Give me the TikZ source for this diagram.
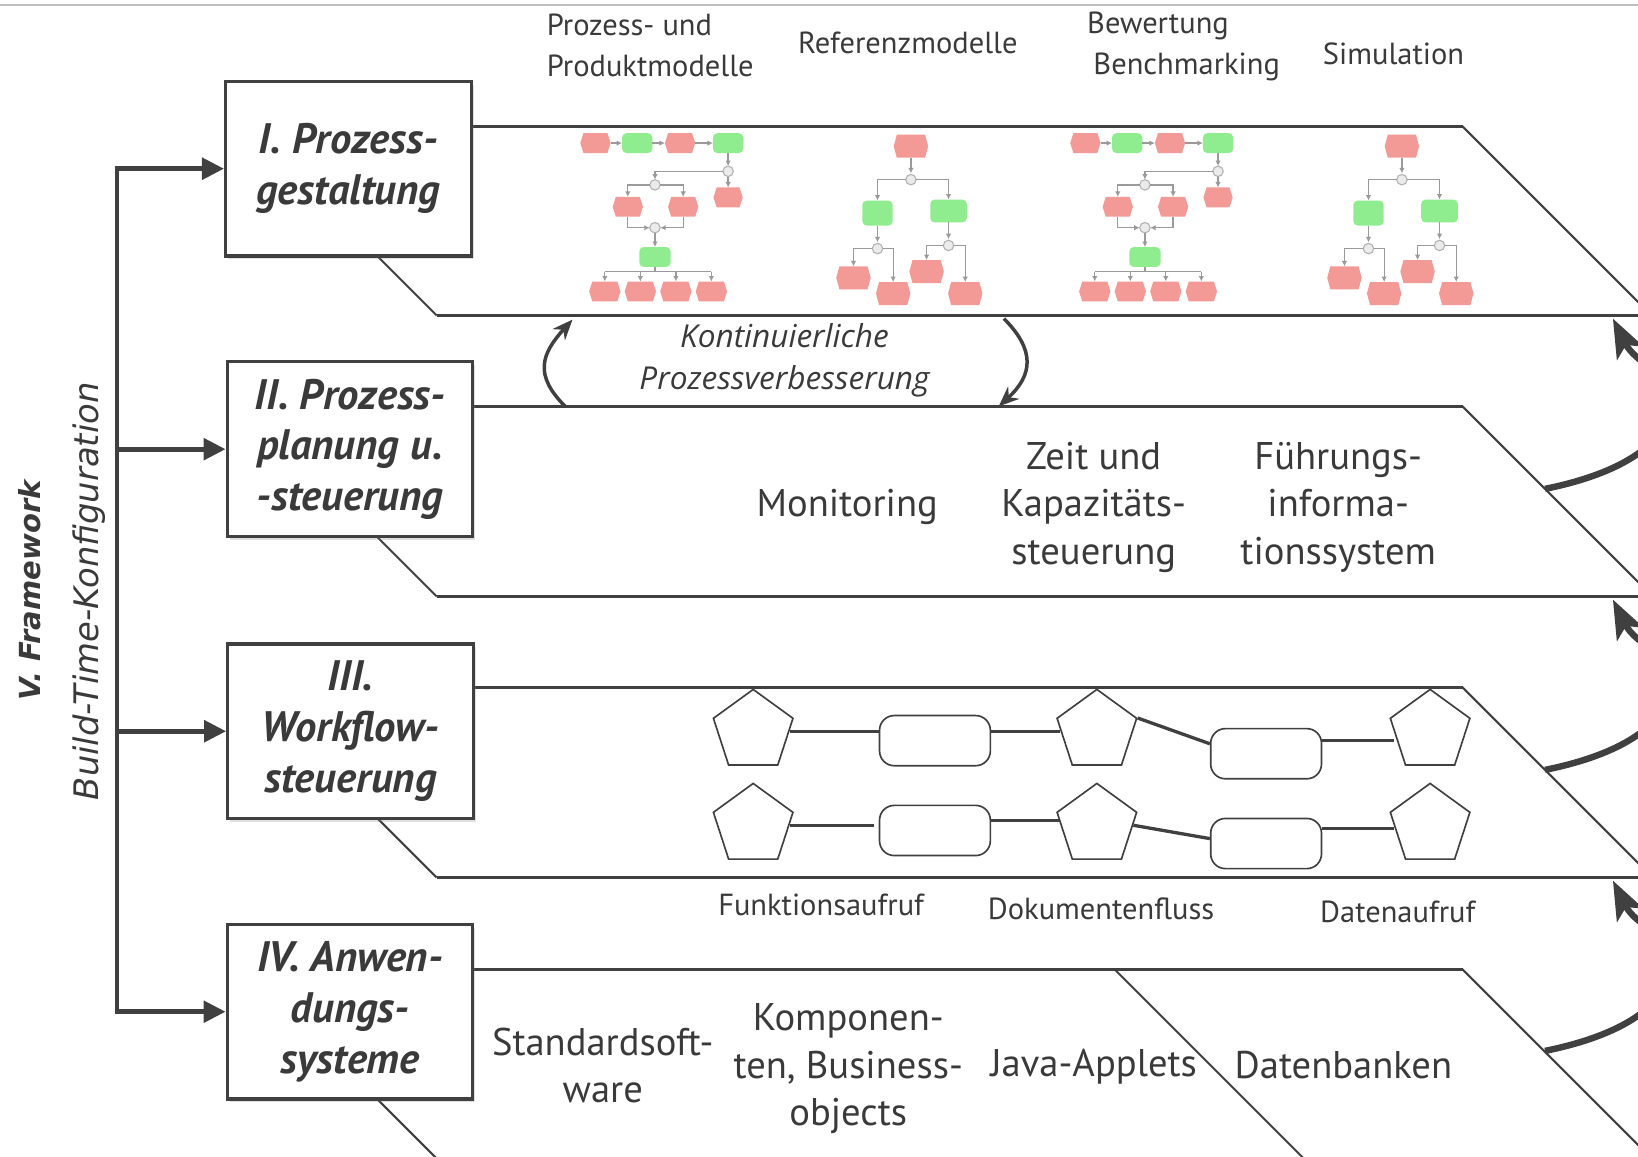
\documentclass[tikz,border=0pt]{standalone}
\usepackage{fontspec}
\setmainfont{PT Sans}
\newfontfamily\vfont{DejaVu Sans}[ItalicFont={DejaVu Sans Oblique},BoldFont={DejaVu Sans Bold},BoldItalicFont={DejaVu Sans Bold Oblique}]
\newfontfamily\kfont{Open Sans}
\usetikzlibrary{arrows.meta,calc,shapes.geometric,shadows}
\definecolor{dk}{HTML}{404040}
\definecolor{txt}{HTML}{3A3A3A}
\definecolor{evred}{HTML}{F39A97}
\definecolor{fngreen}{HTML}{8FEC8F}
\definecolor{epcline}{HTML}{9A9A9A}
\tikzset{
  pics/ev/.style args={#1/#2}{code={\fill[evred] (-#1/2,0) -- (-#1/2+3,-#2/2) -- (#1/2-3,-#2/2) -- (#1/2,0) -- (#1/2-3,#2/2) -- (-#1/2+3,#2/2) -- cycle;}},
  pics/fn/.style args={#1/#2}{code={\fill[fngreen,rounded corners=1.2pt] (-#1/2,-#2/2) rectangle (#1/2,#2/2);}},
  pics/cn/.style={code={\filldraw[fill=black!8,draw=black!30,line width=0.3pt] (0,0) circle[radius=5];}},
  epca/.style={draw=epcline,line width=0.35pt,-{Latex[length=1.5pt,width=1.5pt]}},
  epcl/.style={draw=epcline,line width=0.35pt},
  hline/.style={draw=dk,line width=0.8pt},
  dline/.style={draw=dk,line width=0.55pt},
  box/.style={draw=dk,line width=0.85pt,fill=white,minimum width=2.35cm,minimum height=1.67cm,inner sep=0pt,align=center,text=txt,font=\fontsize{11.6}{13.8}\selectfont\bfseries\itshape,drop shadow={shadow xshift=0.7pt,shadow yshift=-0.9pt,opacity=0.25}},
  lbl/.style={text=txt,align=center,inner sep=0pt,font=\fontsize{8.3}{11.1}\selectfont},
  biglbl/.style={text=txt,align=center,inner sep=0pt,font=\fontsize{10.5}{12.9}\selectfont},
  spine/.style={draw=dk,line width=1.3pt},
  spinearrow/.style={spine,-{Triangle[length=6pt,width=5.8pt]}},
  bigarrow/.style={draw=dk,line width=1.75pt,-{Stealth[length=10.5pt,width=8pt,inset=2.5pt]}},
  kparrow/.style={draw=dk,line width=0.95pt,-{Stealth[length=5.5pt,width=4.5pt]}},
  pent/.style={draw=dk,line width=0.45pt,fill=white,regular polygon,regular polygon sides=5,minimum size=0.8cm,inner sep=0pt},
  rrect/.style={draw=dk,line width=0.45pt,fill=white,rounded corners=4pt,minimum width=1.06cm,minimum height=0.48cm,inner sep=0pt},
  wfconn/.style={draw=dk,line width=0.9pt},
}
\newcommand\epcA{%
  \pic at (570,137) {ev=29/19};
  \pic at (610,137) {fn=29/19};
  \pic at (651,137) {ev=29/19};
  \pic at (697,137) {fn=29/19};
  \draw[epca] (584.5,137) -- (595.5,137);
  \draw[epca] (624.5,137) -- (636.5,137);
  \draw[epca] (665.5,137) -- (682.5,137);
  \draw[epca] (697,146.5) -- (697,159);
  \pic at (697,164) {cn};
  \draw[epca] (692,164) -| (627,172);
  \draw[epca] (697,169) -- (697,179.5);
  \pic at (697,189) {ev=28/19};
  \pic at (627,177) {cn};
  \draw[epca] (622,177) -| (601,188.5);
  \draw[epca] (632,177) -| (654,188.5);
  \pic at (601,198) {ev=29/19};
  \pic at (654,198) {ev=29/19};
  \draw[epca] (601,207.5) |- (622,218);
  \draw[epca] (654,207.5) |- (632,218);
  \pic at (627,218) {cn};
  \draw[epca] (627,223) -- (627,236.5);
  \pic at (627,246) {fn=30/19};
  \draw[epcl] (627,255.5) -- (627,260);
  \draw[epcl] (579,260) -- (681,260);
  \foreach \xx in {579,613,647,681} {\draw[epca] (\xx,260) -- (\xx,269.5); \pic at (\xx,279) {ev=30/19};}
}
\newcommand\epcB{%
  \pic at (872,140) {ev=33/22};
  \draw[epca] (872,151) -- (872,166);
  \pic at (872,172) {cn};
  \draw[epca] (867,172) -| (840,192);
  \draw[epca] (877,172) -| (908,191);
  \pic at (840,204) {fn=29/24};
  \pic at (908,202) {fn=35/22};
  \draw[epca] (840,216) -- (840,232);
  \pic at (840,238) {cn};
  \draw[epca] (835,238) -| (817,255);
  \draw[epca] (845,238) -| (855,270);
  \pic at (817,266) {ev=33/22};
  \pic at (855,281) {ev=33/22};
  \draw[epca] (908,213) -- (908,229);
  \pic at (908,235) {cn};
  \draw[epca] (903,235) -| (887,249);
  \draw[epca] (913,235) -| (924,270);
  \pic at (887,260) {ev=33/22};
  \pic at (924,281) {ev=33/22};
}
\begin{document}
\begin{tikzpicture}[x=0.01cm,y=-0.01cm]
\useasboundingbox (0,0) rectangle (1568,1107);
\clip (0,0) rectangle (1568,1107);
% top rule
\draw[draw=black!25,line width=0.5pt] (0,5) -- (1568,5);
% layers
\foreach \yt/\yb in {121/302,389/571,658/840,928/1109}{
  \draw[hline] (230,\yt) -- (1400,\yt);
  \draw[dline] (1400,\yt) -- ($(1400,\yt)+(\yb-\yt,\yb-\yt)$);
  \draw[hline] (418,\yb) -- (1700,\yb);
  \draw[dline] ($(418,\yb)-(\yb-\yt,\yb-\yt)$) -- (418,\yb);
}
\draw[dline] (1067,928) -- (1248,1109);
% EPC thumbnails
\epcA
\begin{scope}[shift={(469,0)}]\epcA\end{scope}
\epcB
\begin{scope}[shift={(470,0)}]\epcB\end{scope}
% boxes
\node[box] (b1) at (333.5,161.5) {I. Prozess-\\gestaltung};
\node[box] (b2) at (335,430) {II. Prozess-\\planung u.\\-steuerung};
\node[box] (b3) at (335.5,700) {III.\\Workflow-\\steuerung};
\node[box] (b4) at (335,968.5) {IV. Anwen-\\dungs-\\systeme};
% spine
\coordinate (sp1) at (112,161.5);
\coordinate (sp4) at (112,968.5);
\draw[spinearrow] (sp4) |- (b1.west);
\draw[spinearrow] (sp1) |- (b4.west);
\draw[spinearrow] (b2.west -| sp1) -- (b2.west);
\draw[spinearrow] (b3.west -| sp1) -- (b3.west);
% vertical labels
\node[rotate=90,text=txt,inner sep=0pt,font=\vfont\fontsize{7.9}{9}\selectfont\bfseries\itshape] (vfw) at (28,565) {V. Framework};
\node[rotate=90,text=txt,inner sep=0pt,font=\vfont\fontsize{9.2}{11}\selectfont\itshape] (btk) at (85,566) {Build-Time-Konfiguration};
% top labels
\node[lbl,align=left] (t1) at (622.5,43.5) {Prozess- und\\Produktmodelle};
\node[lbl] (t2) at (869,41) {Referenzmodelle};
\node[lbl,align=left] (t3) at (1133,44.5) {Bewertung\\\hspace*{1.7pt}Benchmarking};
\node[lbl] (t4) at (1334,52) {Simulation};
% continuous improvement
\node[text=txt,align=center,inner sep=0pt,font=\kfont\fontsize{8.6}{11.4}\selectfont\itshape] (kp) at (751,344.5) {Kontinuierliche\\Prozessverbesserung};
\coordinate (kl1) at (541,389);
\coordinate (kl2) at (548,306);
\coordinate (kr1) at (961,305);
\coordinate (kr2) at (956,389);
\draw[kparrow] (kl1) .. controls +(-30,-30) and +(-30,33) .. (kl2);
\draw[kparrow] (kr1) .. controls +(30,30) and +(33,-30) .. (kr2);
% layer II labels
\node[biglbl] (m1) at (811,485) {Monitoring};
\node[biglbl] (m2) at (1047,485.5) {Zeit und\\Kapazitäts-\\steuerung};
\node[biglbl] (m3) at (1281,485.5) {Führungs-\\informa-\\tionssystem};
% workflow shapes
\node[pent] (a1) at (721,700) {};
\node[pent] (a2) at (1050,700) {};
\node[pent] (a3) at (1369,700) {};
\node[pent] (c1) at (721,790) {};
\node[pent] (c2) at (1050,790) {};
\node[pent] (c3) at (1369,790) {};
\node[rrect] (ra1) at (895,709) {};
\node[rrect] (ra2) at (1212,721.5) {};
\node[rrect] (rc1) at (895,795) {};
\node[rrect] (rc2) at (1212,807.5) {};
\draw[wfconn] (a1.east) -- (a1.east -| ra1.west);
\draw[wfconn] (a2.west -| ra1.east) -- (a2.west);
\draw[wfconn] (a2.corner 5) -- (ra2.170);
\draw[wfconn] (ra2.13) -- (ra2.13 -| a3.west);
\draw[wfconn,shorten >=1.2pt] (c1.east) -- (c1.east -| rc1.west);
\draw[wfconn] (rc1.10) -- (rc1.10 -| c2.west);
\draw[wfconn] (c2.east) -- (rc2.175);
\draw[wfconn] (rc2.15) -- (rc2.15 -| c3.west);
% layer III labels
\node[lbl] (f1) at (786,866) {Funktionsaufruf};
\node[lbl] (f2) at (1054,870) {Dokumentenfluss};
\node[lbl] (f3) at (1338,873) {Datenaufruf};
% layer IV labels
\node[biglbl] (s1) at (577,1020) {Standardsoft-\\ware};
\node[biglbl] (s2) at (812,1023) {Komponen-\\ten, Business-\\objects};
\node[biglbl] (s3) at (1047,1021) {Java-Applets};
\node[biglbl] (s4) at (1286,1020) {Datenbanken};
% right feedback arrows
\foreach \s/\e in {468/305,737/574,1006/843}{
  \coordinate (rs) at (1479,\s);
  \coordinate (re) at (1544,\e);
  \draw[bigarrow] (rs) .. controls +(60,-12) and +(0,45) .. ($(rs)+(119,-83)$) .. controls +(0,-30) and +(22,44) .. (re);
}
\end{tikzpicture}
\end{document}
